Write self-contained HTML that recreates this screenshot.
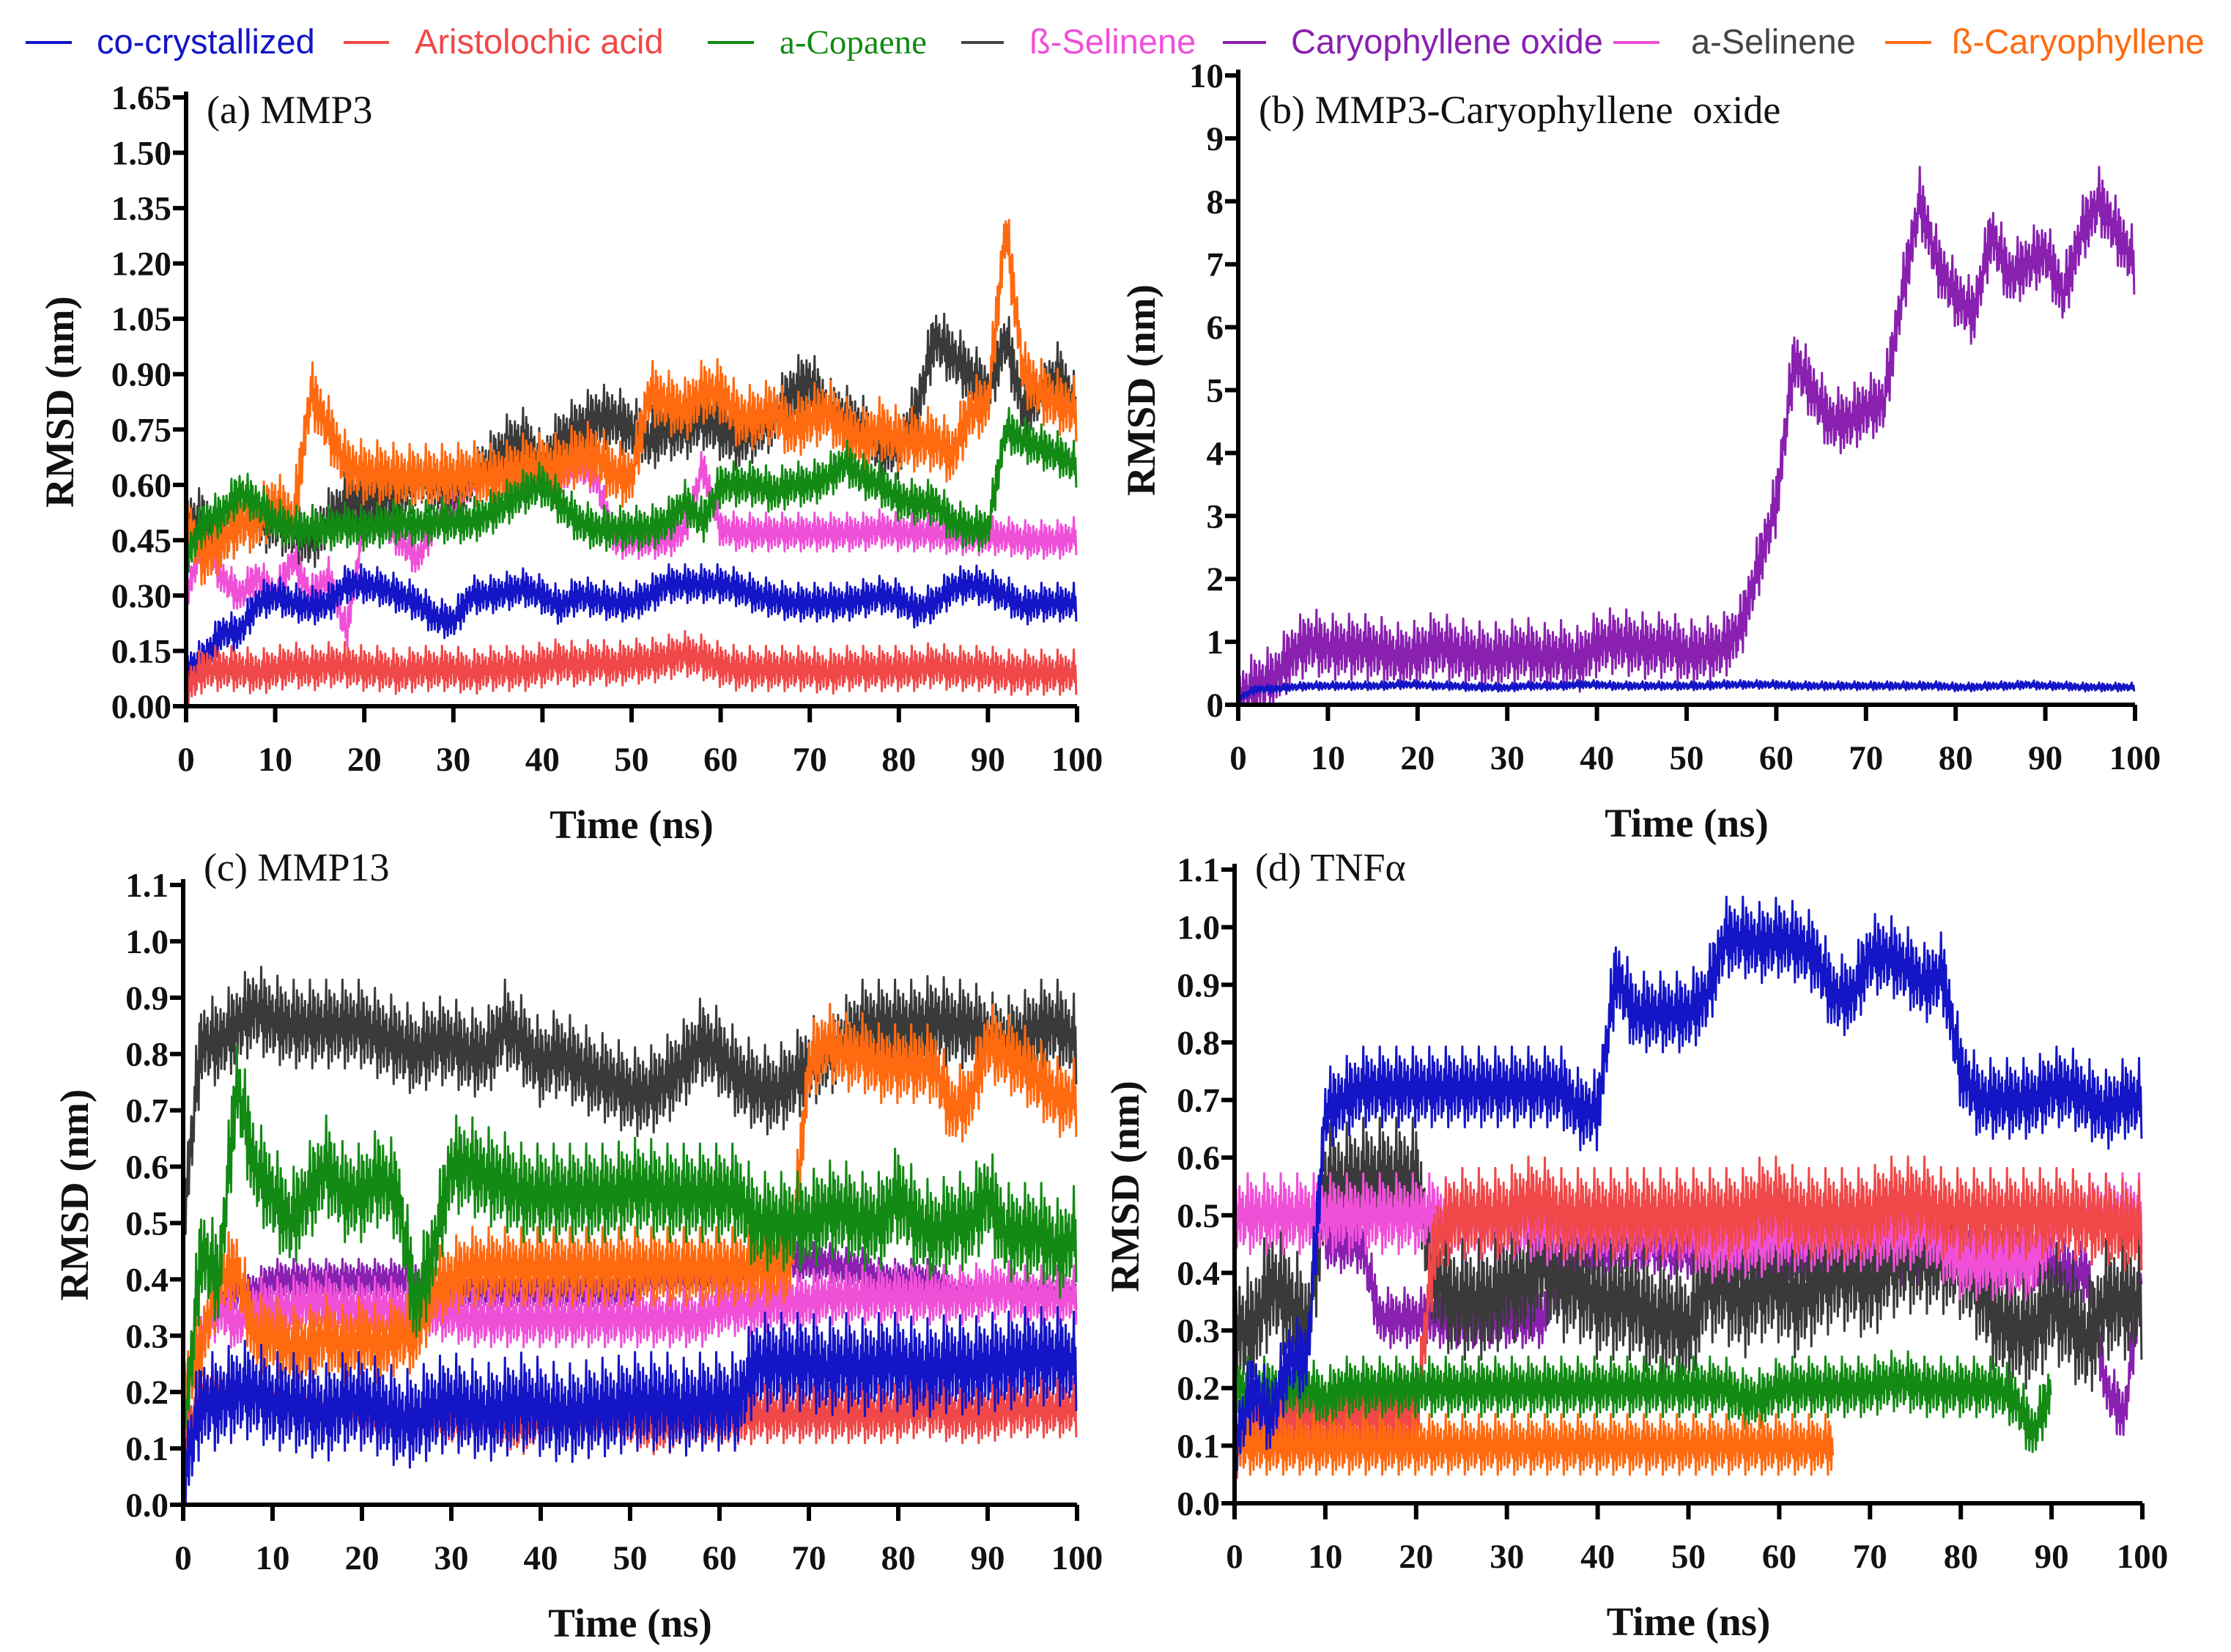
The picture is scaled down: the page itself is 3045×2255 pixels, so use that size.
<!DOCTYPE html>
<html><head><meta charset="utf-8"><style>
body{margin:0;background:#fff;}
svg{display:block;}
.tk{font-family:"Liberation Serif",serif;font-weight:bold;font-size:47px;fill:#111;}
.at{font-family:"Liberation Serif",serif;font-weight:bold;font-size:55px;fill:#111;}
.pl{font-family:"Liberation Serif",serif;font-size:54px;fill:#111;white-space:pre;}
.lg{font-family:"Liberation Sans",sans-serif;font-size:47px;}
</style></head><body>
<svg id="chart" width="3045" height="2255" viewBox="0 0 3045 2255" xmlns="http://www.w3.org/2000/svg">
<g id="legend">
<line x1="35" y1="58" x2="98" y2="58" stroke="#1515c8" stroke-width="4"/><text class="lg" x="132" y="73" fill="#1515c8">co-crystallized</text>
<line x1="469" y1="58" x2="531" y2="58" stroke="#f04848" stroke-width="4"/><text class="lg" x="566" y="73" fill="#f04848">Aristolochic acid</text>
<line x1="966" y1="58" x2="1029" y2="58" stroke="#138a13" stroke-width="4"/><text class="lg" x="1064" y="73" fill="#138a13" style="font-family:'Liberation Serif',serif">a-Copaene</text>
<line x1="1312" y1="58" x2="1370" y2="58" stroke="#444" stroke-width="4"/><text class="lg" x="1405" y="73" fill="#f050d8">ß-Selinene</text>
<line x1="1669" y1="58" x2="1728" y2="58" stroke="#8a20b0" stroke-width="4"/><text class="lg" x="1762" y="73" fill="#8a20b0">Caryophyllene oxide</text>
<line x1="2202" y1="58" x2="2265" y2="58" stroke="#f050d8" stroke-width="4"/><text class="lg" x="2308" y="73" fill="#444">a-Selinene</text>
<line x1="2573" y1="58" x2="2636" y2="58" stroke="#ff6a10" stroke-width="4"/><text class="lg" x="2664" y="73" fill="#ff6a10">ß-Caryophyllene</text>
</g>
</svg>
<script>
// ---- data (values every 2 ns, 0..100 ns) ----
const timeStep = 2;
const xTicks = [0,10,20,30,40,50,60,70,80,90,100];
const aTicks = [0,0.15,0.30,0.45,0.60,0.75,0.90,1.05,1.20,1.35,1.50,1.65];
const bTicks = [0,1,2,3,4,5,6,7,8,9,10];
const cTicks = [0,0.1,0.2,0.3,0.4,0.5,0.6,0.7,0.8,0.9,1.0,1.1];
// Panel a
const aBlue  = [0.10,0.13,0.20,0.20,0.28,0.30,0.28,0.27,0.28,0.33,0.33,0.32,0.30,0.28,0.24,0.23,0.30,0.30,0.31,0.32,0.30,0.27,0.30,0.29,0.28,0.28,0.30,0.33,0.33,0.33,0.33,0.32,0.30,0.29,0.28,0.28,0.28,0.28,0.29,0.30,0.29,0.26,0.28,0.32,0.33,0.32,0.30,0.27,0.28,0.28,0.28];
const aRed   = [0.05,0.10,0.10,0.10,0.09,0.10,0.11,0.10,0.11,0.11,0.10,0.10,0.09,0.10,0.10,0.10,0.09,0.10,0.10,0.10,0.11,0.12,0.11,0.12,0.11,0.12,0.12,0.13,0.14,0.13,0.11,0.10,0.10,0.10,0.10,0.10,0.09,0.10,0.10,0.10,0.10,0.10,0.11,0.10,0.10,0.10,0.09,0.09,0.09,0.09,0.09];
const aGreen = [0.40,0.50,0.52,0.58,0.55,0.50,0.48,0.48,0.48,0.49,0.48,0.49,0.50,0.49,0.50,0.50,0.50,0.52,0.55,0.58,0.60,0.55,0.50,0.48,0.48,0.48,0.48,0.50,0.55,0.50,0.60,0.60,0.60,0.58,0.60,0.60,0.62,0.66,0.62,0.60,0.56,0.55,0.55,0.50,0.48,0.48,0.75,0.72,0.70,0.68,0.65];
const aBlack = [0.50,0.50,0.45,0.50,0.50,0.50,0.48,0.45,0.50,0.55,0.55,0.57,0.58,0.62,0.60,0.60,0.62,0.65,0.70,0.72,0.65,0.72,0.75,0.78,0.78,0.75,0.72,0.75,0.75,0.78,0.75,0.72,0.75,0.78,0.85,0.88,0.80,0.78,0.75,0.70,0.70,0.80,1.00,0.95,0.90,0.85,1.00,0.80,0.85,0.90,0.80];
const aPink  = [0.30,0.45,0.35,0.30,0.35,0.30,0.40,0.30,0.35,0.20,0.50,0.50,0.45,0.40,0.50,0.55,0.60,0.62,0.62,0.60,0.60,0.62,0.65,0.62,0.45,0.45,0.45,0.45,0.48,0.65,0.48,0.47,0.47,0.47,0.47,0.47,0.47,0.47,0.47,0.48,0.47,0.47,0.47,0.46,0.46,0.46,0.46,0.45,0.45,0.45,0.46];
const aOrange= [0.50,0.40,0.45,0.50,0.50,0.55,0.50,0.85,0.75,0.65,0.63,0.63,0.62,0.62,0.62,0.62,0.63,0.62,0.63,0.65,0.65,0.65,0.68,0.68,0.63,0.62,0.85,0.82,0.80,0.85,0.85,0.78,0.78,0.80,0.75,0.78,0.80,0.75,0.72,0.75,0.72,0.72,0.72,0.68,0.80,0.82,1.30,0.90,0.85,0.82,0.80];
// Panel b
const bBlue  = [0.10,0.25,0.25,0.28,0.30,0.30,0.30,0.30,0.30,0.32,0.32,0.30,0.30,0.28,0.28,0.27,0.30,0.30,0.30,0.32,0.32,0.30,0.30,0.30,0.30,0.30,0.30,0.32,0.32,0.32,0.32,0.30,0.30,0.30,0.30,0.30,0.30,0.30,0.30,0.30,0.28,0.28,0.30,0.30,0.32,0.30,0.30,0.28,0.28,0.28,0.28];
const bPurple= [0.10,0.30,0.40,0.80,1.00,0.90,0.90,0.90,0.85,0.75,0.80,0.95,0.85,0.80,0.75,0.80,0.85,0.75,0.80,0.70,0.95,1.00,0.95,0.90,0.95,0.80,0.85,0.90,1.20,2.20,3.20,5.50,5.00,4.50,4.50,4.70,4.80,6.50,8.00,7.00,6.50,6.20,7.50,6.80,7.00,7.20,6.50,7.50,8.00,7.50,7.00];
// Panel c
const cBlack = [0.50,0.82,0.82,0.85,0.88,0.86,0.85,0.85,0.85,0.85,0.85,0.83,0.82,0.80,0.82,0.82,0.80,0.80,0.85,0.82,0.78,0.80,0.78,0.76,0.75,0.73,0.73,0.75,0.78,0.82,0.80,0.76,0.74,0.73,0.75,0.78,0.80,0.82,0.85,0.85,0.85,0.85,0.86,0.85,0.85,0.83,0.82,0.83,0.85,0.85,0.82];
const cGreen = [0.10,0.45,0.40,0.75,0.60,0.55,0.50,0.55,0.60,0.55,0.55,0.58,0.55,0.35,0.45,0.60,0.60,0.58,0.57,0.55,0.55,0.55,0.55,0.55,0.55,0.56,0.56,0.55,0.55,0.55,0.55,0.55,0.50,0.50,0.50,0.50,0.52,0.52,0.50,0.50,0.55,0.50,0.48,0.50,0.50,0.55,0.48,0.48,0.48,0.45,0.48];
const cPurple= [0.20,0.30,0.35,0.38,0.38,0.40,0.40,0.40,0.40,0.40,0.40,0.40,0.40,0.40,0.38,0.38,0.38,0.38,0.38,0.38,0.38,0.38,0.38,0.38,0.38,0.38,0.40,0.40,0.40,0.40,0.40,0.40,0.42,0.42,0.43,0.43,0.43,0.42,0.42,0.40,0.40,0.40,0.40,0.38,0.38,0.38,0.38,0.38,0.38,0.38,0.38];
const cPink  = [0.20,0.30,0.35,0.32,0.35,0.35,0.35,0.36,0.36,0.35,0.35,0.35,0.35,0.35,0.34,0.34,0.33,0.33,0.33,0.33,0.33,0.33,0.33,0.33,0.33,0.33,0.33,0.33,0.33,0.33,0.35,0.35,0.35,0.36,0.36,0.36,0.37,0.37,0.37,0.37,0.37,0.37,0.37,0.37,0.37,0.38,0.38,0.37,0.37,0.37,0.37];
const cOrange= [0.20,0.28,0.40,0.42,0.30,0.30,0.28,0.28,0.30,0.28,0.30,0.28,0.30,0.30,0.38,0.40,0.42,0.42,0.42,0.42,0.42,0.42,0.42,0.42,0.42,0.42,0.42,0.42,0.42,0.42,0.42,0.42,0.42,0.42,0.43,0.78,0.82,0.80,0.80,0.78,0.78,0.78,0.78,0.70,0.72,0.82,0.80,0.78,0.75,0.72,0.72];
const cBlue  = [0.05,0.18,0.18,0.20,0.20,0.18,0.18,0.17,0.16,0.18,0.18,0.17,0.15,0.15,0.17,0.18,0.17,0.16,0.17,0.18,0.17,0.16,0.16,0.17,0.17,0.18,0.18,0.18,0.17,0.18,0.18,0.18,0.25,0.25,0.25,0.25,0.24,0.25,0.24,0.25,0.25,0.24,0.24,0.25,0.24,0.25,0.25,0.26,0.26,0.26,0.25];
const cRed   = [0.10,0.20,0.20,0.20,0.19,0.19,0.18,0.18,0.17,0.17,0.16,0.15,0.15,0.15,0.15,0.15,0.15,0.15,0.14,0.14,0.15,0.15,0.15,0.15,0.15,0.15,0.14,0.14,0.15,0.15,0.15,0.15,0.16,0.16,0.16,0.16,0.16,0.16,0.16,0.16,0.16,0.17,0.17,0.16,0.16,0.16,0.17,0.17,0.17,0.17,0.17];
// Panel d
const dBlue  = [0.10,0.20,0.15,0.25,0.25,0.68,0.70,0.72,0.72,0.72,0.72,0.72,0.72,0.72,0.72,0.72,0.72,0.72,0.72,0.68,0.68,0.92,0.85,0.85,0.85,0.85,0.88,0.98,0.98,0.97,0.98,0.97,0.95,0.88,0.88,0.95,0.95,0.93,0.90,0.92,0.75,0.70,0.70,0.70,0.70,0.72,0.72,0.70,0.68,0.70,0.70];
const dPink  = [0.50,0.50,0.50,0.50,0.50,0.50,0.50,0.50,0.50,0.50,0.50,0.50,0.49,0.49,0.49,0.49,0.49,0.48,0.48,0.48,0.48,0.48,0.48,0.48,0.48,0.48,0.45,0.45,0.46,0.46,0.47,0.47,0.47,0.47,0.47,0.47,0.47,0.47,0.48,0.45,0.42,0.42,0.42,0.42,0.42,0.48,0.50,0.50,0.50,0.50,0.50];
const dPurple= [null,null,null,null,null,0.45,0.45,0.45,0.32,0.32,0.32,0.32,0.32,0.32,0.32,0.32,0.32,0.32,0.42,0.44,0.44,0.45,0.45,0.45,0.44,0.44,0.44,0.43,0.43,0.43,0.43,0.43,0.43,0.43,0.43,0.43,0.43,0.43,0.43,0.43,0.43,0.43,0.43,0.43,0.42,0.42,0.40,0.40,0.20,0.15,0.40];
const dBlack = [0.30,0.30,0.38,0.35,0.30,0.55,0.55,0.56,0.56,0.56,0.56,0.40,0.35,0.35,0.35,0.38,0.38,0.42,0.38,0.38,0.35,0.35,0.35,0.32,0.32,0.30,0.38,0.38,0.35,0.38,0.38,0.35,0.38,0.40,0.40,0.38,0.42,0.43,0.43,0.43,0.42,0.38,0.32,0.30,0.30,0.35,0.32,0.28,0.35,0.35,0.35];
const dRed   = [0.10,0.15,0.15,0.15,0.15,0.15,0.15,0.15,0.15,0.15,0.15,0.45,0.50,0.50,0.50,0.50,0.52,0.52,0.50,0.50,0.50,0.50,0.50,0.50,0.50,0.50,0.50,0.50,0.50,0.52,0.52,0.50,0.50,0.50,0.50,0.50,0.52,0.52,0.52,0.50,0.50,0.50,0.50,0.50,0.50,0.50,0.50,0.49,0.49,0.48,0.48];
const dGreen = [0.20,0.20,0.20,0.20,0.20,0.18,0.20,0.20,0.20,0.20,0.20,0.20,0.20,0.20,0.20,0.20,0.20,0.20,0.20,0.20,0.20,0.20,0.20,0.20,0.20,0.20,0.20,0.20,0.18,0.18,0.20,0.20,0.20,0.20,0.20,0.20,0.21,0.21,0.20,0.20,0.20,0.20,0.20,0.18,0.12,0.20,null,null,null,null,null];
const dOrange= [0.10,0.10,0.10,0.10,0.10,0.10,0.10,0.10,0.10,0.10,0.10,0.10,0.10,0.10,0.10,0.10,0.10,0.10,0.10,0.10,0.10,0.10,0.10,0.10,0.10,0.10,0.10,0.10,0.10,0.10,0.10,0.10,0.10,0.10,null,null,null,null,null,null,null,null,null,null,null,null,null,null,null,null,null];

const COL={blue:'#1515c8',red:'#f04848',green:'#138a13',black:'#3a3a3a',pink:'#f050d8',purple:'#8a20b0',orange:'#ff6a10'};
const NS='http://www.w3.org/2000/svg';
const svg=document.getElementById('chart');
const pattern=[1,-0.6,0.8,-1,0.3,-0.4,0.9,-0.8,0.5,-0.2,0.7,-0.9,0.2,-0.7,0.6,-0.3,1.3,-0.5,0.4,-1.2];
function mk(tag,attrs,parent){const e=document.createElementNS(NS,tag);for(const k in attrs)e.setAttribute(k,attrs[k]);parent.appendChild(e);return e;}

function panel(cfg){
  const g=mk('g',{},svg);
  
  
  const sx=t=>cfg.x0+(cfg.x1-cfg.x0)*t/100;
  const sy=v=>cfg.y0-(cfg.y0-cfg.y1)*v/cfg.ymax;
  cfg.series.forEach(s=>{
    let d='',pen=false,k=0;
    for(let i=0;i<s.vals.length-1;i++){
      const a=s.vals[i],b=s.vals[i+1];
      if(a==null||b==null){pen=false;continue;}
      const N=22;
      for(let j=0;j<N;j++){
        const f=j/N;const t=(i+f)*timeStep;const v=a+(b-a)*f+1.4*s.amp*pattern[(k++)%pattern.length];
        d+=(pen?'L':'M')+sx(t).toFixed(1)+' '+sy(Math.max(0,v)).toFixed(1);pen=true;
      }
    }
    const p=mk('path',{d:d,fill:'none',stroke:COL[s.c],'stroke-width':3,'stroke-linejoin':'round'},g);
    
    
  });
  const ax=mk('path',{d:`M${cfg.x0} ${cfg.y1-8} L${cfg.x0} ${cfg.y0} L${cfg.x1} ${cfg.y0}`,fill:'none',stroke:'#000','stroke-width':6},g);
  
  
  xTicks.forEach(t=>{
    mk('line',{x1:sx(t),x2:sx(t),y1:cfg.y0,y2:cfg.y0+22,stroke:'#000','stroke-width':6},g);
    const tx=mk('text',{x:sx(t),y:cfg.y0+88,'text-anchor':'middle',class:'tk'},g);tx.textContent=t;
    
    
  });
  cfg.yt.forEach(v=>{
    mk('line',{x1:cfg.x0-18,x2:cfg.x0,y1:sy(v),y2:sy(v),stroke:'#000','stroke-width':6},g);
    const tx=mk('text',{x:cfg.x0-20,y:sy(v)+16,'text-anchor':'end',class:'tk'},g);tx.textContent=v.toFixed(cfg.dec);
    
    
  });
  const xt=mk('text',{x:(cfg.x0+cfg.x1)/2,y:cfg.y0+180,'text-anchor':'middle',class:'at'},g);xt.textContent='Time (ns)';
  
  
  const yc=(cfg.y0+cfg.y1)/2;
  const yt=mk('text',{x:cfg.ytx,y:yc,'text-anchor':'middle',class:'at',transform:`rotate(-90 ${cfg.ytx} ${yc})`},g);yt.textContent='RMSD (nm)';
  
  
  const pl=mk('text',{x:cfg.x0+28,y:cfg.ly,class:'pl'},g);pl.textContent=cfg.label;
  
  
}
panel({name:'panel-a',x0:254,x1:1470,y0:964,y1:133,ymax:1.65,yt:aTicks,dec:2,ytx:100,ly:168,label:'(a) MMP3',
  series:[{vals:aPink,c:'pink',amp:0.03},{vals:aBlack,c:'black',amp:0.05},{vals:aOrange,c:'orange',amp:0.05},{vals:aGreen,c:'green',amp:0.035},{vals:aBlue,c:'blue',amp:0.03},{vals:aRed,c:'red',amp:0.035}]});
panel({name:'panel-b',x0:1690,x1:2914,y0:962,y1:103,ymax:10,yt:bTicks,dec:0,ytx:1576,ly:168,label:'(b) MMP3-Caryophyllene  oxide',
  series:[{vals:bPurple,c:'purple',amp:0.3},{vals:bBlue,c:'blue',amp:0.04}]});
panel({name:'panel-c',x0:250,x1:1470,y0:2054,y1:1208,ymax:1.1,yt:cTicks,dec:1,ytx:120,ly:1202,label:'(c) MMP13',
  series:[{vals:cPurple,c:'purple',amp:0.02},{vals:cBlack,c:'black',amp:0.045},{vals:cPink,c:'pink',amp:0.03},{vals:cOrange,c:'orange',amp:0.04},{vals:cGreen,c:'green',amp:0.05},{vals:cRed,c:'red',amp:0.03},{vals:cBlue,c:'blue',amp:0.05}]});
panel({name:'panel-d',x0:1685,x1:2924,y0:2052,y1:1187,ymax:1.1,yt:cTicks,dec:1,ytx:1554,ly:1202,label:'(d) TNFα',
  series:[{vals:dPurple,c:'purple',amp:0.03},{vals:dBlack,c:'black',amp:0.06},{vals:dPink,c:'pink',amp:0.04},{vals:dRed,c:'red',amp:0.045},{vals:dGreen,c:'green',amp:0.03},{vals:dOrange,c:'orange',amp:0.03},{vals:dBlue,c:'blue',amp:0.04}]});
</script>
</body></html>
